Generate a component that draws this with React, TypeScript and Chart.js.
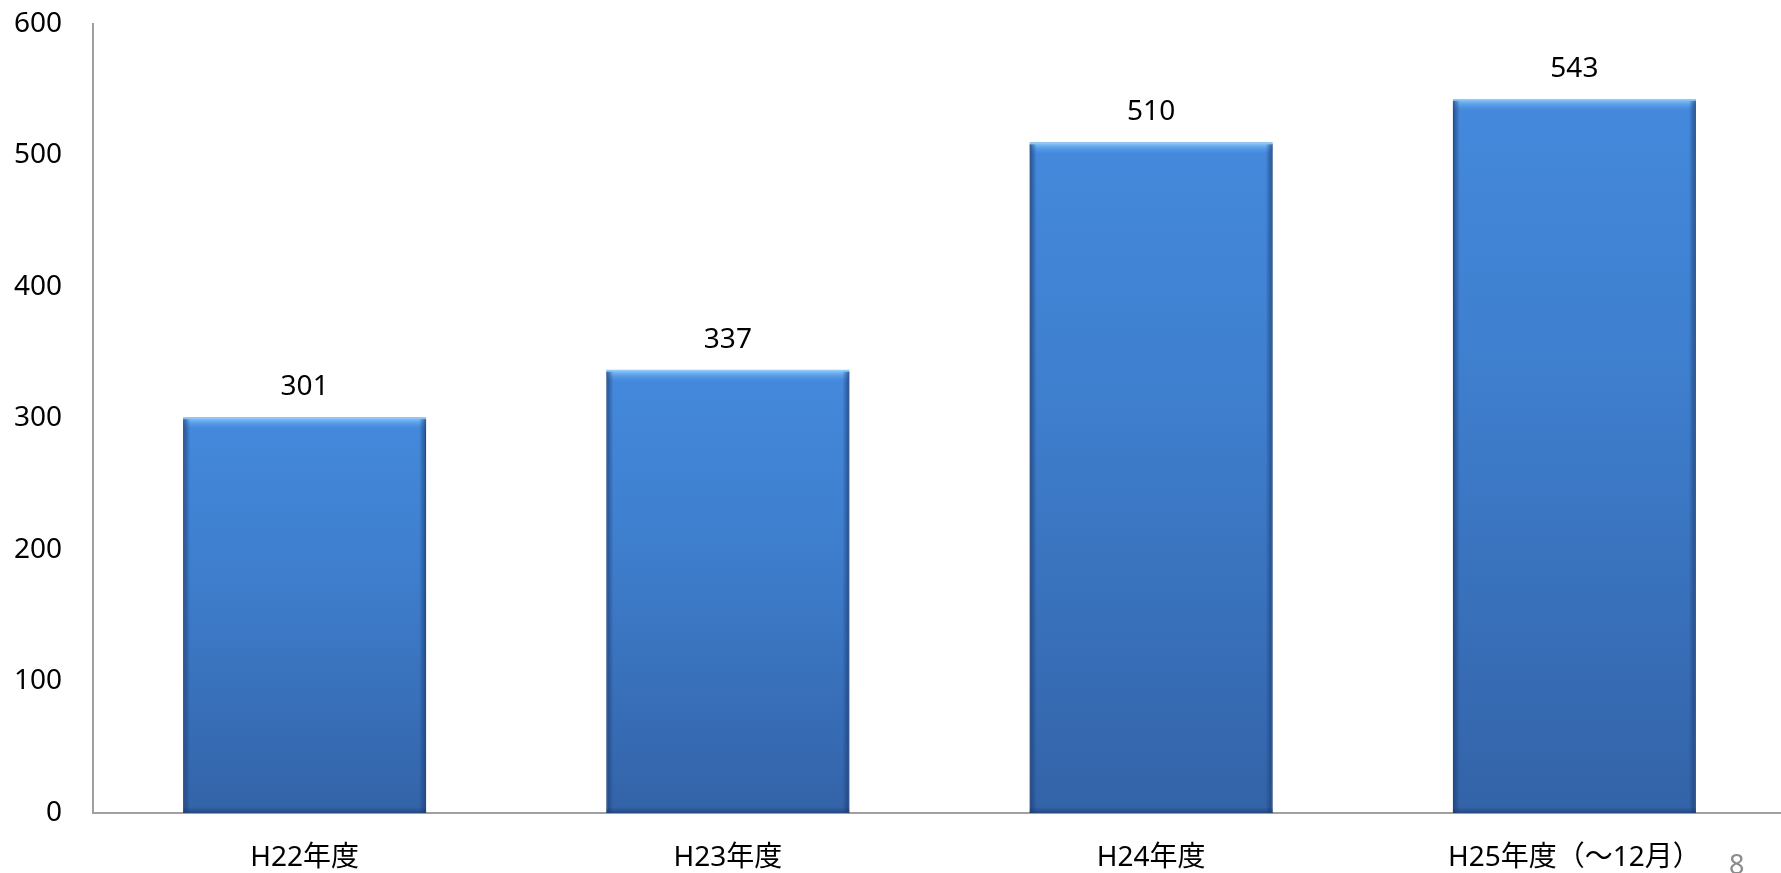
import React, { useEffect, useRef } from "react";
import { Chart, registerables } from "chart.js";

Chart.register(...registerables);

const categories: string[] = ["H22年度", "H23年度", "H24年度", "H25年度（〜12月）"];
const values: number[] = [301, 337, 510, 543];
const yTicks: number[] = [0, 100, 200, 300, 400, 500, 600];
const pageNumber = "8";

const FONT = '"Noto Sans", "Noto Sans CJK JP", sans-serif';
const FS = 28;

const bevelPlugin = {
  id: "bevel",
  afterDatasetsDraw(chart: any) {
    const ctx = chart.ctx;
    const meta = chart.getDatasetMeta(0);
    meta.data.forEach((bar: any, i: number) => {
      const { x, y, base, width } = bar.getProps(["x", "y", "base", "width"], true);
      const l = x - width / 2;
      const r = x + width / 2;
      ctx.save();
      let g = ctx.createLinearGradient(0, y, 0, y + 12);
      g.addColorStop(0, "rgba(155,210,255,1)");
      g.addColorStop(0.35, "rgba(120,185,245,0.65)");
      g.addColorStop(1, "rgba(80,150,230,0)");
      ctx.fillStyle = g;
      ctx.fillRect(l, y, width, 12);
      g = ctx.createLinearGradient(l, 0, l + 7, 0);
      g.addColorStop(0, "rgba(25,60,115,0.75)");
      g.addColorStop(1, "rgba(25,60,115,0)");
      ctx.fillStyle = g;
      ctx.fillRect(l, y + 2, 7, base - y - 2);
      g = ctx.createLinearGradient(r, 0, r - 7, 0);
      g.addColorStop(0, "rgba(25,60,115,0.75)");
      g.addColorStop(1, "rgba(25,60,115,0)");
      ctx.fillStyle = g;
      ctx.fillRect(r - 7, y + 2, 7, base - y - 2);
      g = ctx.createLinearGradient(0, base, 0, base - 6);
      g.addColorStop(0, "rgba(25,55,100,0.6)");
      g.addColorStop(1, "rgba(25,55,100,0)");
      ctx.fillStyle = g;
      ctx.fillRect(l, base - 6, width, 6);
      ctx.restore();

      ctx.save();
      ctx.font = `${FS}px ${FONT}`;
      ctx.fillStyle = "#000";
      ctx.textAlign = "center";
      ctx.textBaseline = "middle";
      ctx.fillText(String(values[i]), x, y - 30);
      ctx.restore();
    });
  },
};

export default function App() {
  const ref = useRef<HTMLCanvasElement | null>(null);

  useEffect(() => {
    if (!ref.current) return;
    const chart = new Chart(ref.current, {
      type: "bar",
      data: {
        labels: categories,
        datasets: [
          {
            data: values,
            backgroundColor: (c: any) => {
              const chart = c.chart;
              const ys = chart.scales && chart.scales.y;
              if (!chart.chartArea || !ys || c.raw == null) return "#3f7fcf";
              const top = ys.getPixelForValue(c.raw);
              const bot = ys.getPixelForValue(0);
              const g = chart.ctx.createLinearGradient(0, top, 0, bot);
              g.addColorStop(0, "#4489dc");
              g.addColorStop(0.4, "#3e7ecd");
              g.addColorStop(1, "#3363a8");
              return g;
            },
            borderColor: "#2d5c9c",
            borderWidth: 1,
            barPercentage: 0.574,
            categoryPercentage: 1,
          },
        ],
      },
      options: {
        animation: false,
        responsive: false,
        devicePixelRatio: 1,
        layout: { padding: { left: 0, top: 24, right: 14, bottom: 0 } },
        plugins: {
          legend: { display: false },
          tooltip: { enabled: false },
          title: { display: false },
        },
        scales: {
          x: {
            grid: { display: false, drawTicks: false },
            border: { display: true, color: "#a0a0a0", width: 2 },
            ticks: {
              font: { family: FONT, size: FS },
              color: "#000",
              padding: 28,
              maxRotation: 0,
              autoSkip: false,
            },
            afterFit: (s: any) => {
              s.height = 60;
            },
          },
          y: {
            min: 0,
            max: 600,
            grid: { display: false, drawTicks: false },
            border: { display: true, color: "#a0a0a0", width: 2 },
            afterBuildTicks: (s: any) => {
              s.ticks = yTicks.map((v) => ({ value: v }));
            },
            ticks: {
              font: { family: FONT, size: FS },
              color: "#000",
              padding: 31,
            },
            afterFit: (s: any) => {
              s.width = 93;
              s.paddingTop = 0;
              s.paddingBottom = 0;
            },
          },
        },
      },
      plugins: [bevelPlugin],
    });
    return () => chart.destroy();
  }, []);

  return (
    <div
      style={{
        position: "fixed",
        left: 0,
        top: 0,
        width: 1781,
        height: 873,
        overflow: "hidden",
        background: "#fff",
      }}
    >
      <canvas ref={ref} width={1800} height={873} style={{ display: "block" }} />
      <div
        style={{
          position: "absolute",
          left: 1729,
          top: 850,
          fontFamily: FONT,
          fontSize: 27,
          lineHeight: 1,
          color: "#8c8c8c",
        }}
      >
        {pageNumber}
      </div>
    </div>
  );
}
